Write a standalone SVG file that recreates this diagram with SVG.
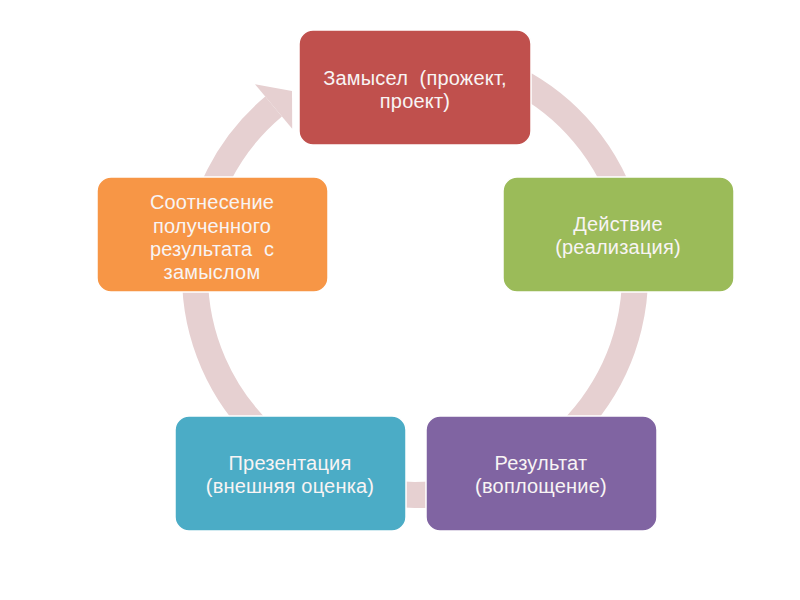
<svg xmlns="http://www.w3.org/2000/svg" width="800" height="600" viewBox="0 0 800 600">
  <style>
    .box { stroke: #ffffff; stroke-width: 1.5; }
    .lbl { font-family: "Liberation Sans", Arial, sans-serif; font-size: 20px; fill: #F8F4F4; text-anchor: middle; white-space: pre; letter-spacing: 0.2px; }
    .band { fill: none; stroke: #E6D0D1; stroke-width: 26; }
  </style>
  <rect width="800" height="600" fill="#ffffff"/>
  <g id="connectors">
    <path class="band" d="M 525 84.5 A 220 220 0 1 1 273.6 106.5"/>
    <polygon points="255,84.3 292,91.1 292.2,128.7" fill="#E6D0D1"/>
  </g>
  <g id="node-zamysel">
    <rect class="box" x="299" y="30" width="232" height="115" rx="14" fill="#C0504D"/>
    <text class="lbl" x="415" y="85" xml:space="preserve">Замысел  (прожект,</text>
    <text class="lbl" x="415" y="108">проект)</text>
  </g>
  <g id="node-deystvie">
    <rect class="box" x="503" y="177" width="231" height="115" rx="14" fill="#9BBB59"/>
    <text class="lbl" x="618" y="231">Действие</text>
    <text class="lbl" x="618" y="254">(реализация)</text>
  </g>
  <g id="node-rezultat">
    <rect class="box" x="426" y="416" width="231" height="115" rx="14" fill="#8064A2"/>
    <text class="lbl" x="541" y="470">Результат</text>
    <text class="lbl" x="541" y="493">(воплощение)</text>
  </g>
  <g id="node-prezentatsiya">
    <rect class="box" x="175" y="416" width="231" height="115" rx="14" fill="#4BACC6"/>
    <text class="lbl" x="290" y="470">Презентация</text>
    <text class="lbl" x="290" y="493">(внешняя оценка)</text>
  </g>
  <g id="node-sootnesenie">
    <rect class="box" x="97" y="177" width="231" height="115" rx="14" fill="#F79646"/>
    <text class="lbl" x="212" y="209">Соотнесение</text>
    <text class="lbl" x="212" y="232.5">полученного</text>
    <text class="lbl" x="212" y="256" xml:space="preserve">результата  с</text>
    <text class="lbl" x="212" y="279">замыслом</text>
  </g>
</svg>
